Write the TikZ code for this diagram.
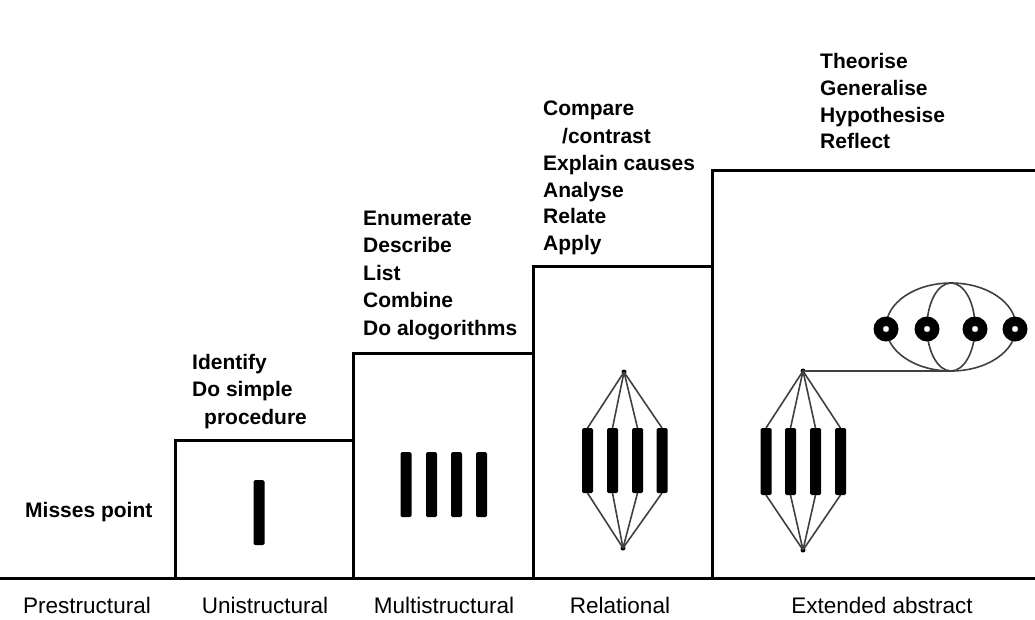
\documentclass[tikz,border=0pt]{standalone}
\usepackage{fontspec}
\setmainfont{Liberation Sans}
\begin{document}
\begin{tikzpicture}[x=1pt,y=-1pt,
  lbl/.style={anchor=base west,inner sep=0pt,font=\fontsize{21}{27}\selectfont\bfseries},
  blbl/.style={anchor=base,inner sep=0pt,font=\fontsize{22.5}{27}\selectfont},
  stepline/.style={line width=3pt,black},
  wire/.style={line width=1.6pt,black!75},
  bar/.style={fill=black,rounded corners=1.5pt},
  apex/.style={circle,fill=black,inner sep=0pt,minimum size=5pt},
  unit/.style={circle,fill=black,inner sep=0pt,minimum size=25pt},
  dot/.style={circle,fill=white,draw=black!40,inner sep=0pt,minimum size=6pt}]
\useasboundingbox (0,0) rectangle (1035,619);
% staircase
\draw[stepline] (0,578) -- (1035,578);
\draw[stepline] (175,578) -- (175,440) -- (353,440);
\draw[stepline] (353,578) -- (353,353) -- (533,353);
\draw[stepline] (533,578) -- (533,266) -- (712,266);
\draw[stepline] (712,578) -- (712,170) -- (1035,170);
% texts
\node[lbl] (t0) at (25,517) {Misses point};
\node[lbl] (t1a) at (192,369) {Identify};
\node[lbl] (t1b) at (192,396) {Do simple};
\node[lbl] (t1c) at (204,424) {procedure};
\node[lbl] (t2a) at (363,225) {Enumerate};
\node[lbl] (t2b) at (363,252) {Describe};
\node[lbl] (t2c) at (363,280) {List};
\node[lbl] (t2d) at (363,307) {Combine};
\node[lbl] (t2e) at (363,335) {Do alogorithms};
\node[lbl] (t3a) at (543,115) {Compare};
\node[lbl] (t3b) at (562,143) {/contrast};
\node[lbl] (t3c) at (543,170) {Explain causes};
\node[lbl] (t3d) at (543,197) {Analyse};
\node[lbl] (t3e) at (543,223) {Relate};
\node[lbl] (t3f) at (543,250) {Apply};
\node[lbl] (t4a) at (820,68) {Theorise};
\node[lbl] (t4b) at (820,95) {Generalise};
\node[lbl] (t4c) at (820,122) {Hypothesise};
\node[lbl] (t4d) at (820,148) {Reflect};
\node[blbl] (b0) at (87,613) {Prestructural};
\node[blbl] (b1) at (265,613) {Unistructural};
\node[blbl] (b2) at (444,613) {Multistructural};
\node[blbl] (b3) at (620,613) {Relational};
\node[blbl] (b4) at (882,613) {Extended abstract};
% unistructural bar
\fill[bar] (253.5,480) rectangle (264.5,545);
% multistructural bars
\foreach \x in {406,431.5,456.5,481.5}{\fill[bar] (\x-5.5,452) rectangle (\x+5.5,517);}
% relational
\node[apex] (ra) at (624,372) {};
\node[apex] (rb) at (623,548) {};
\foreach \x/\n in {587.5/1,612.5/2,637.5/3,662/4}{
  \coordinate (rt\n) at (\x,428);
  \coordinate (rd\n) at (\x,493);
  \draw[wire] (ra.center) -- (rt\n);
  \draw[wire] (rd\n) -- (rb.center);
  \fill[bar] (\x-5.5,428) rectangle (\x+5.5,493);}
% extended abstract
\node[apex] (ea) at (803,371) {};
\node[apex] (eb) at (803,550) {};
\foreach \x/\n in {766/1,790.5/2,815.5/3,840.5/4}{
  \coordinate (et\n) at (\x,428);
  \coordinate (ed\n) at (\x,495);
  \draw[wire] (ea.center) -- (et\n);
  \draw[wire] (ed\n) -- (eb.center);
  \fill[bar] (\x-5.5,428) rectangle (\x+5.5,495);}
\coordinate (eo) at (951,327);
\coordinate (ebot) at (951,371);
\draw[wire] (eo) ellipse [x radius=65, y radius=44];
\draw[wire] (eo) ellipse [x radius=24, y radius=44];
\draw[wire] (ea.center) -- (ebot);
\foreach \x/\n in {886/1,927/2,975/3,1015/4}{
  \node[unit] (u\n) at (\x,329) {};
  \node[dot] (ud\n) at (u\n) {};}
\end{tikzpicture}
\end{document}
